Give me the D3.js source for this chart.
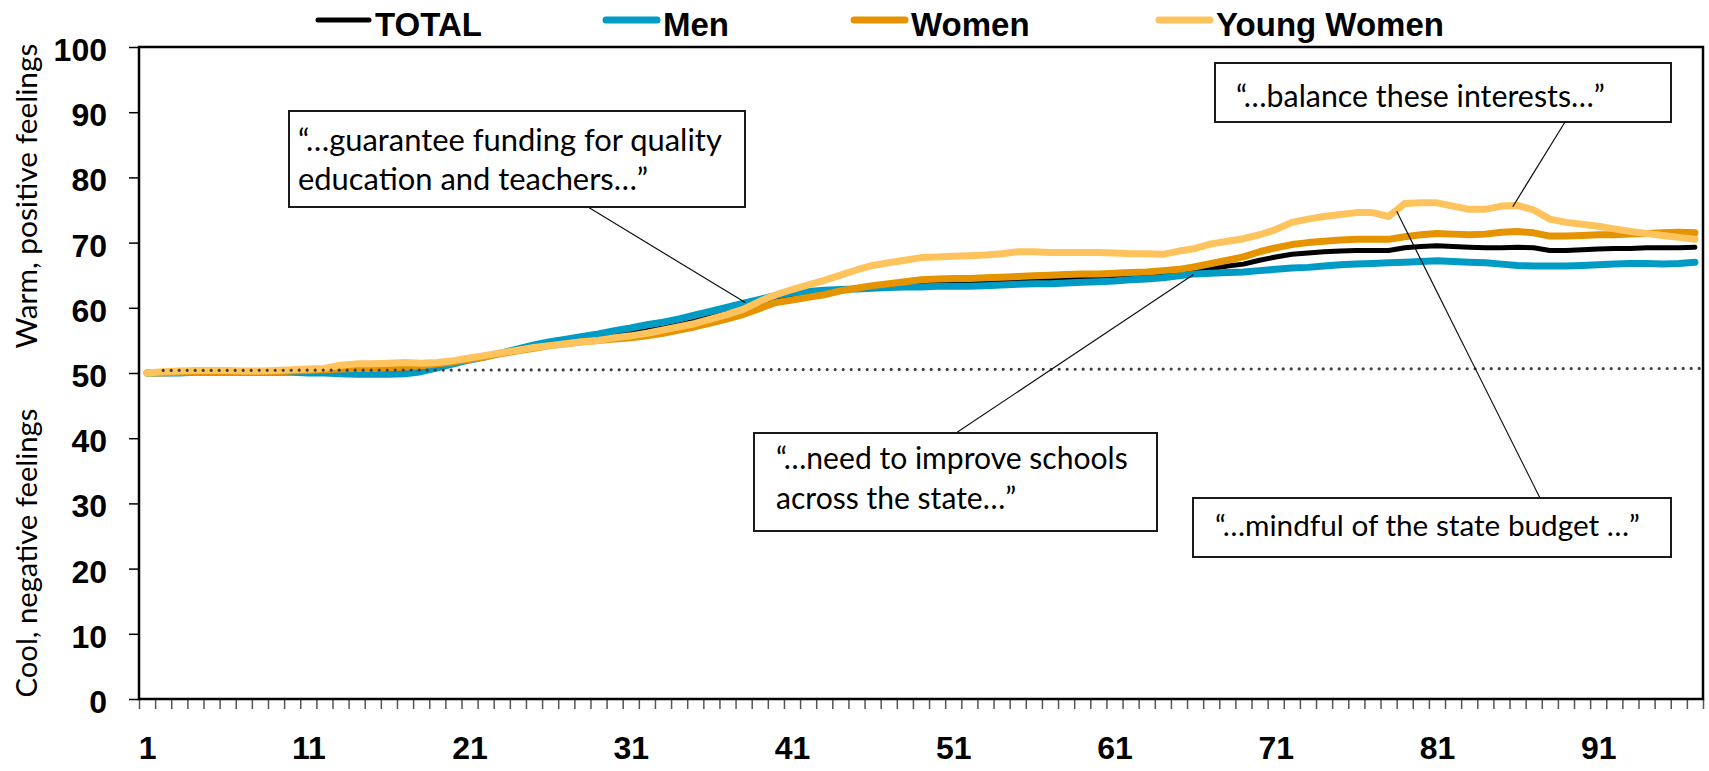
<!DOCTYPE html>
<html>
<head>
<meta charset="utf-8">
<script src="https://cdn.jsdelivr.net/npm/d3@7"></script>
<style>
  body { margin: 0; background: #fff; }
  svg { display: block; }
</style>
</head>
<body>
<svg id="chart" width="1709" height="771"></svg>
<script>
// --- data ---
const categories = d3.range(1, 98);

const total = [
  50.0, 50.0, 50.0, 50.1, 50.1, 50.1, 50.1, 50.1, 50.1, 50.2,
  50.2, 50.2, 50.2, 50.2, 50.2, 50.3, 50.4, 50.6, 51.1, 51.5,
  52.0, 52.5, 53.0, 53.5, 54.0, 54.5, 54.8, 55.2, 55.5, 55.8,
  56.1, 56.5, 56.9, 57.4, 58.0, 58.6, 59.2, 59.9, 60.6, 61.2,
  61.7, 62.0, 62.3, 62.6, 62.9, 63.1, 63.4, 63.6, 63.7, 63.8,
  63.9, 63.9, 64.0, 64.1, 64.2, 64.3, 64.4, 64.4, 64.5, 64.6,
  64.7, 64.8, 64.9, 65.1, 65.3, 65.7, 66.0, 66.4, 66.7, 67.3,
  67.8, 68.2, 68.4, 68.6, 68.7, 68.8, 68.8, 68.8, 69.2, 69.4,
  69.5, 69.4, 69.3, 69.2, 69.2, 69.3, 69.2, 68.8, 68.8, 68.9,
  69.0, 69.1, 69.1, 69.2, 69.2, 69.2, 69.3
];

const men = [
  50.0, 50.0, 50.0, 50.1, 50.1, 50.1, 50.1, 50.1, 50.1, 50.1,
  50.0, 50.0, 49.9, 49.8, 49.8, 49.8, 49.9, 50.2, 50.8, 51.4,
  52.0, 52.5, 53.1, 53.7, 54.3, 54.8, 55.2, 55.6, 56.0, 56.5,
  56.9, 57.4, 57.8, 58.3, 58.9, 59.5, 60.1, 60.7, 61.3, 61.9,
  62.3, 62.5, 62.7, 62.8, 62.9, 63.0, 63.1, 63.2, 63.2, 63.3,
  63.3, 63.3, 63.4, 63.5, 63.6, 63.7, 63.7, 63.8, 63.9, 64.0,
  64.1, 64.3, 64.4, 64.6, 64.9, 65.2, 65.3, 65.4, 65.5, 65.7,
  65.9, 66.1, 66.2, 66.4, 66.6, 66.7, 66.8, 66.9, 67.0, 67.1,
  67.2, 67.1, 67.0, 66.9, 66.7, 66.5, 66.4, 66.4, 66.4, 66.5,
  66.6, 66.7, 66.8, 66.8, 66.7, 66.8, 67.0
];

const women = [
  50.0, 50.0, 50.1, 50.1, 50.1, 50.1, 50.1, 50.2, 50.2, 50.3,
  50.4, 50.5, 50.6, 50.7, 50.7, 50.8, 50.9, 51.1, 51.4, 51.7,
  52.1, 52.5, 53.0, 53.4, 53.8, 54.2, 54.5, 54.8, 55.0, 55.2,
  55.4, 55.7, 56.1, 56.6, 57.1, 57.7, 58.3, 59.0, 59.9, 60.8,
  61.2, 61.6, 62.0, 62.6, 63.0, 63.4, 63.7, 64.0, 64.3, 64.4,
  64.5, 64.5, 64.6, 64.7, 64.8, 64.9, 65.0, 65.1, 65.2, 65.2,
  65.3, 65.4, 65.5, 65.7, 65.9, 66.3, 66.8, 67.3, 67.8, 68.6,
  69.2, 69.7, 70.0, 70.2, 70.4, 70.5, 70.5, 70.5, 70.9, 71.2,
  71.4, 71.3, 71.2, 71.3, 71.6, 71.7, 71.5, 71.0, 71.0, 71.1,
  71.2, 71.2, 71.3, 71.4, 71.5, 71.6, 71.5
];

const youngWomen = [
  50.0, 50.2, 50.3, 50.4, 50.4, 50.4, 50.3, 50.3, 50.4, 50.5,
  50.6, 50.7, 51.2, 51.4, 51.4, 51.5, 51.6, 51.5, 51.6, 51.9,
  52.3, 52.7, 53.1, 53.5, 53.9, 54.2, 54.5, 54.8, 55.0, 55.4,
  55.7, 56.1, 56.6, 57.1, 57.6, 58.3, 59.0, 59.8, 61.0, 62.0,
  62.8, 63.5, 64.2, 65.0, 65.8, 66.5, 66.9, 67.3, 67.7, 67.8,
  67.9, 68.0, 68.1, 68.3, 68.6, 68.6, 68.5, 68.5, 68.5, 68.5,
  68.4, 68.3, 68.3, 68.2, 68.7, 69.1, 69.8, 70.2, 70.6, 71.2,
  72.0, 73.1, 73.6, 74.0, 74.3, 74.6, 74.6, 74.0, 76.0, 76.1,
  76.1, 75.6, 75.1, 75.1, 75.6, 75.7, 75.0, 73.6, 73.1, 72.8,
  72.5, 72.1, 71.7, 71.4, 71.1, 70.8, 70.5
];

const seriesNames = ["TOTAL", "Men", "Women", "Young Women"];
const seriesValues = [total, men, women, youngWomen];
const seriesColors = ["#000000", "#009bc5", "#e59400", "#ffc35e"];

const yTicks = [0, 10, 20, 30, 40, 50, 60, 70, 80, 90, 100];
const xLabels = [1, 11, 21, 31, 41, 51, 61, 71, 81, 91];

// dotted neutral line (category, value)
const refCats = [2, 97.5];
const refValues = [50.4, 50.7];

const quotes = [
  ["\u201C\u2026guarantee funding for quality", "education and teachers\u2026\u201D"],
  ["\u201C\u2026balance these interests\u2026\u201D"],
  ["\u201C\u2026need to improve schools", "across the state\u2026\u201D"],
  ["\u201C\u2026mindful of the state budget \u2026\u201D"]
];
// point on the chart each quote points to (category, value)
const quoteCats = [38.1, 85.7, 65.9, 78.5];
const quoteValues = [60.8, 75.5, 65.1, 74.8];

// --- layout ---
const W = 1709, H = 771;
const margin = { top: 47, left: 139, right: 6, bottom: 72 };
const plotW = W - margin.left - margin.right;
const plotH = H - margin.top - margin.bottom;

const boldFont = "'Liberation Sans', Arial, sans-serif";
const textFont = "Lato, 'Noto Sans', sans-serif";

const svg = d3.select("#chart");

const x = d3.scaleLinear().domain([0.5, categories.length + 0.5]).range([0, plotW]);
const y = d3.scaleLinear().domain([0, 100]).range([plotH, 0]);

const plot = svg.append("g")
  .attr("transform", `translate(${margin.left},${margin.top})`);

// shrink / grow a text so it spans a given width
const fitWidth = (sel, target) => {
  const len = sel.node().getComputedTextLength();
  const size = parseFloat(sel.attr("font-size"));
  sel.attr("font-size", size * target / len);
  return size * target / len;
};

// y axis
const yAxis = plot.append("g")
  .call(d3.axisLeft(y).tickValues(yTicks).tickSize(10).tickPadding(22));
yAxis.select(".domain").remove();
yAxis.selectAll(".tick line").attr("stroke", "#000").attr("stroke-width", 1.5);
yAxis.selectAll(".tick text")
  .attr("font-family", boldFont)
  .attr("font-weight", "bold")
  .attr("font-size", 32)
  .attr("fill", "#000")
  .attr("dy", "0.42em");

// x axis: ticks between categories, labels every 10
const xTicks = plot.append("g")
  .attr("transform", `translate(0,${plotH})`)
  .call(d3.axisBottom(x).tickValues(d3.range(0.5, categories.length + 1, 1)).tickSize(10).tickFormat(""));
xTicks.select(".domain").remove();
xTicks.selectAll(".tick line").attr("stroke", "#555").attr("stroke-width", 1.5);

const xAxis = plot.append("g")
  .attr("transform", `translate(0,${plotH})`)
  .call(d3.axisBottom(x).tickValues(xLabels).tickSize(0).tickPadding(37).tickFormat(d3.format("d")));
xAxis.select(".domain").remove();
xAxis.selectAll(".tick text")
  .attr("font-family", boldFont)
  .attr("font-weight", "bold")
  .attr("font-size", 32)
  .attr("fill", "#000");

// series lines
const line = d3.line()
  .x((d, i) => x(categories[i]))
  .y(d => y(d));

plot.append("g")
  .selectAll("path")
  .data(seriesValues)
  .enter()
  .append("path")
  .attr("d", line)
  .attr("fill", "none")
  .attr("stroke", (d, i) => seriesColors[i])
  .attr("stroke-width", (d, i) => i === 0 ? 5 : 7)
  .attr("stroke-linecap", "round")
  .attr("stroke-linejoin", "round");

// dotted neutral line
plot.append("path")
  .attr("d", d3.line().x(d => x(d)).y((d, i) => y(refValues[i]))(refCats))
  .attr("fill", "none")
  .attr("stroke", "#404040")
  .attr("stroke-width", 3.2)
  .attr("stroke-dasharray", "0 8")
  .attr("stroke-linecap", "round");

// plot frame
plot.append("rect")
  .attr("width", plotW)
  .attr("height", plotH)
  .attr("fill", "none")
  .attr("stroke", "#000")
  .attr("stroke-width", 2.5);

// axis titles
const titles = [
  { text: "Warm, positive feelings", cy: 196, len: 305 },
  { text: "Cool, negative feelings", cy: 553, len: 289 }
];
titles.forEach(t => {
  const el = svg.append("text")
    .attr("transform", `translate(37,${t.cy}) rotate(-90)`)
    .attr("text-anchor", "middle")
    .attr("font-family", textFont)
    .attr("font-size", 30)
    .attr("fill", "#000")
    .text(t.text);
  fitWidth(el, t.len);
});

// annotation boxes (pixel layout) and leader lines to data points
const boxes = [
  { x: 289, y: 111, w: 456, h: 96, tx: 298, base: [151, 190], lineW: 424, from: [588, 207] },
  { x: 1215, y: 63, w: 456, h: 59, tx: 1236, base: [107], lineW: 369, from: [1565, 122] },
  { x: 754, y: 433, w: 403, h: 98, tx: 776, base: [469, 509], lineW: 352, from: [956, 433] },
  { x: 1193, y: 498, w: 478, h: 59, tx: 1215, base: [536], lineW: 425, from: [1540, 498] }
];

const notes = svg.append("g");
boxes.forEach((b, i) => {
  notes.append("line")
    .attr("x1", b.from[0])
    .attr("y1", b.from[1])
    .attr("x2", margin.left + x(quoteCats[i]))
    .attr("y2", margin.top + y(quoteValues[i]))
    .attr("stroke", "#111")
    .attr("stroke-width", 1.2);
});
boxes.forEach((b, i) => {
  notes.append("rect")
    .attr("x", b.x)
    .attr("y", b.y)
    .attr("width", b.w)
    .attr("height", b.h)
    .attr("fill", "#fff")
    .attr("stroke", "#1a1a1a")
    .attr("stroke-width", 2);
  const first = notes.append("text")
    .attr("x", b.tx)
    .attr("y", b.base[0])
    .attr("font-family", textFont)
    .attr("font-size", 30)
    .attr("fill", "#000")
    .text(quotes[i][0]);
  const size = fitWidth(first, b.lineW);
  quotes[i].slice(1).forEach((q, j) => {
    notes.append("text")
      .attr("x", b.tx)
      .attr("y", b.base[j + 1])
      .attr("font-family", textFont)
      .attr("font-size", size)
      .attr("fill", "#000")
      .text(q);
  });
});

// legend (line start of each entry)
const legendX = [315, 603, 851, 1156];
const legend = svg.append("g");
seriesNames.forEach((name, i) => {
  legend.append("line")
    .attr("x1", legendX[i] + 3)
    .attr("x2", legendX[i] + 54)
    .attr("y1", 20)
    .attr("y2", 20)
    .attr("stroke", seriesColors[i])
    .attr("stroke-width", i === 0 ? 5 : 7)
    .attr("stroke-linecap", "round");
  legend.append("text")
    .attr("x", legendX[i] + 60)
    .attr("y", 36)
    .attr("font-family", boldFont)
    .attr("font-weight", "bold")
    .attr("font-size", 33)
    .attr("fill", "#000")
    .text(name);
});
</script>
</body>
</html>
